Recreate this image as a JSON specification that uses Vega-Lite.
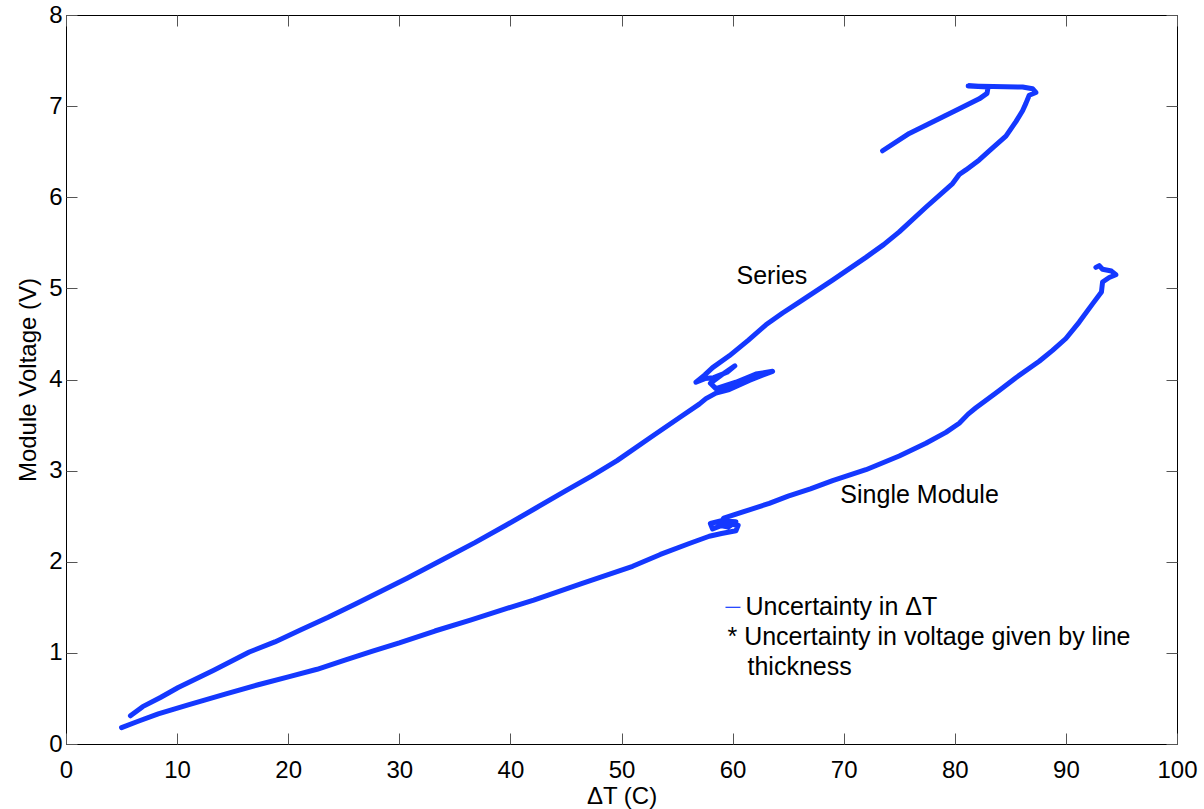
{
  "$schema": "https://vega.github.io/schema/vega-lite/v6.json",
  "width": 1111,
  "height": 729,
  "autosize": "none",
  "padding": {"left": 66, "top": 15, "right": 27, "bottom": 65},
  "background": "white",
  "config": {
    "view": {"stroke": "black", "strokeWidth": 1},
    "font": "Liberation Sans",
    "axis": {"grid": false, "domain": false, "labelColor": "black", "titleColor": "black", "tickColor": "#555", "tickWidth": 1, "labelFlush": false, "labelOverlap": false, "titleFontWeight": "normal", "labelFont": "Liberation Sans", "titleFont": "Liberation Sans"}
  },
  "datasets": {
    "curves": [
      {"curve": "Series", "i": 0, "dT": 5.8, "V": 0.31},
      {"curve": "Series", "i": 1, "dT": 6.9, "V": 0.41},
      {"curve": "Series", "i": 2, "dT": 8.5, "V": 0.51},
      {"curve": "Series", "i": 3, "dT": 10.1, "V": 0.62},
      {"curve": "Series", "i": 4, "dT": 13.3, "V": 0.81},
      {"curve": "Series", "i": 5, "dT": 16.5, "V": 1.01},
      {"curve": "Series", "i": 6, "dT": 18.8, "V": 1.12},
      {"curve": "Series", "i": 7, "dT": 21.1, "V": 1.25},
      {"curve": "Series", "i": 8, "dT": 23.6, "V": 1.39},
      {"curve": "Series", "i": 9, "dT": 26.1, "V": 1.54},
      {"curve": "Series", "i": 10, "dT": 28.4, "V": 1.68},
      {"curve": "Series", "i": 11, "dT": 30.7, "V": 1.82},
      {"curve": "Series", "i": 12, "dT": 34.0, "V": 2.03},
      {"curve": "Series", "i": 13, "dT": 36.8, "V": 2.21},
      {"curve": "Series", "i": 14, "dT": 39.6, "V": 2.40},
      {"curve": "Series", "i": 15, "dT": 42.3, "V": 2.59},
      {"curve": "Series", "i": 16, "dT": 45.0, "V": 2.78},
      {"curve": "Series", "i": 17, "dT": 47.3, "V": 2.94},
      {"curve": "Series", "i": 18, "dT": 49.6, "V": 3.11},
      {"curve": "Series", "i": 19, "dT": 52.8, "V": 3.38},
      {"curve": "Series", "i": 20, "dT": 55.2, "V": 3.58},
      {"curve": "Series", "i": 21, "dT": 57.0, "V": 3.73},
      {"curve": "Series", "i": 22, "dT": 57.6, "V": 3.79},
      {"curve": "Series", "i": 23, "dT": 58.5, "V": 3.85},
      {"curve": "Series", "i": 24, "dT": 59.7, "V": 3.89},
      {"curve": "Series", "i": 25, "dT": 61.5, "V": 3.99},
      {"curve": "Series", "i": 26, "dT": 63.6, "V": 4.09},
      {"curve": "Series", "i": 27, "dT": 62.1, "V": 4.06},
      {"curve": "Series", "i": 28, "dT": 60.3, "V": 3.97},
      {"curve": "Series", "i": 29, "dT": 58.5, "V": 3.90},
      {"curve": "Series", "i": 30, "dT": 58.0, "V": 3.96},
      {"curve": "Series", "i": 31, "dT": 59.0, "V": 4.05},
      {"curve": "Series", "i": 32, "dT": 60.2, "V": 4.15},
      {"curve": "Series", "i": 33, "dT": 59.5, "V": 4.08},
      {"curve": "Series", "i": 34, "dT": 58.3, "V": 4.02},
      {"curve": "Series", "i": 35, "dT": 57.5, "V": 4.01},
      {"curve": "Series", "i": 36, "dT": 56.7, "V": 3.97},
      {"curve": "Series", "i": 37, "dT": 57.5, "V": 4.05},
      {"curve": "Series", "i": 38, "dT": 58.2, "V": 4.13},
      {"curve": "Series", "i": 39, "dT": 59.7, "V": 4.26},
      {"curve": "Series", "i": 40, "dT": 61.4, "V": 4.43},
      {"curve": "Series", "i": 41, "dT": 63.0, "V": 4.60},
      {"curve": "Series", "i": 42, "dT": 64.5, "V": 4.73},
      {"curve": "Series", "i": 43, "dT": 66.0, "V": 4.85},
      {"curve": "Series", "i": 44, "dT": 69.0, "V": 5.09},
      {"curve": "Series", "i": 45, "dT": 72.0, "V": 5.34},
      {"curve": "Series", "i": 46, "dT": 73.6, "V": 5.48},
      {"curve": "Series", "i": 47, "dT": 75.0, "V": 5.62},
      {"curve": "Series", "i": 48, "dT": 77.4, "V": 5.89},
      {"curve": "Series", "i": 49, "dT": 79.8, "V": 6.15},
      {"curve": "Series", "i": 50, "dT": 80.4, "V": 6.25},
      {"curve": "Series", "i": 51, "dT": 81.0, "V": 6.30},
      {"curve": "Series", "i": 52, "dT": 82.2, "V": 6.41},
      {"curve": "Series", "i": 53, "dT": 83.2, "V": 6.52},
      {"curve": "Series", "i": 54, "dT": 84.6, "V": 6.67},
      {"curve": "Series", "i": 55, "dT": 85.5, "V": 6.83},
      {"curve": "Series", "i": 56, "dT": 86.1, "V": 6.95},
      {"curve": "Series", "i": 57, "dT": 86.4, "V": 7.03},
      {"curve": "Series", "i": 58, "dT": 86.7, "V": 7.12},
      {"curve": "Series", "i": 59, "dT": 87.3, "V": 7.15},
      {"curve": "Series", "i": 60, "dT": 87.0, "V": 7.19},
      {"curve": "Series", "i": 61, "dT": 86.1, "V": 7.21},
      {"curve": "Series", "i": 62, "dT": 81.2, "V": 7.22},
      {"curve": "Series", "i": 63, "dT": 83.0, "V": 7.21},
      {"curve": "Series", "i": 64, "dT": 82.9, "V": 7.14},
      {"curve": "Series", "i": 65, "dT": 82.2, "V": 7.08},
      {"curve": "Series", "i": 66, "dT": 80.4, "V": 6.97},
      {"curve": "Series", "i": 67, "dT": 78.9, "V": 6.88},
      {"curve": "Series", "i": 68, "dT": 77.4, "V": 6.79},
      {"curve": "Series", "i": 69, "dT": 75.9, "V": 6.70},
      {"curve": "Series", "i": 70, "dT": 73.5, "V": 6.51},
      {"curve": "Single", "i": 0, "dT": 5.0, "V": 0.18},
      {"curve": "Single", "i": 1, "dT": 6.5, "V": 0.25},
      {"curve": "Single", "i": 2, "dT": 8.3, "V": 0.33},
      {"curve": "Single", "i": 3, "dT": 11.0, "V": 0.43},
      {"curve": "Single", "i": 4, "dT": 14.4, "V": 0.55},
      {"curve": "Single", "i": 5, "dT": 17.3, "V": 0.65},
      {"curve": "Single", "i": 6, "dT": 20.1, "V": 0.74},
      {"curve": "Single", "i": 7, "dT": 22.6, "V": 0.82},
      {"curve": "Single", "i": 8, "dT": 25.1, "V": 0.92},
      {"curve": "Single", "i": 9, "dT": 27.6, "V": 1.02},
      {"curve": "Single", "i": 10, "dT": 30.0, "V": 1.11},
      {"curve": "Single", "i": 11, "dT": 33.2, "V": 1.24},
      {"curve": "Single", "i": 12, "dT": 36.4, "V": 1.36},
      {"curve": "Single", "i": 13, "dT": 39.2, "V": 1.47},
      {"curve": "Single", "i": 14, "dT": 42.1, "V": 1.58},
      {"curve": "Single", "i": 15, "dT": 46.4, "V": 1.76},
      {"curve": "Single", "i": 16, "dT": 51.0, "V": 1.95},
      {"curve": "Single", "i": 17, "dT": 53.5, "V": 2.08},
      {"curve": "Single", "i": 18, "dT": 56.1, "V": 2.20},
      {"curve": "Single", "i": 19, "dT": 57.9, "V": 2.28},
      {"curve": "Single", "i": 20, "dT": 59.0, "V": 2.31},
      {"curve": "Single", "i": 21, "dT": 60.3, "V": 2.34},
      {"curve": "Single", "i": 22, "dT": 60.5, "V": 2.40},
      {"curve": "Single", "i": 23, "dT": 59.5, "V": 2.42},
      {"curve": "Single", "i": 24, "dT": 58.2, "V": 2.36},
      {"curve": "Single", "i": 25, "dT": 58.0, "V": 2.42},
      {"curve": "Single", "i": 26, "dT": 59.0, "V": 2.45},
      {"curve": "Single", "i": 27, "dT": 60.3, "V": 2.44},
      {"curve": "Single", "i": 28, "dT": 59.6, "V": 2.38},
      {"curve": "Single", "i": 29, "dT": 58.8, "V": 2.40},
      {"curve": "Single", "i": 30, "dT": 59.2, "V": 2.48},
      {"curve": "Single", "i": 31, "dT": 61.5, "V": 2.57},
      {"curve": "Single", "i": 32, "dT": 63.3, "V": 2.64},
      {"curve": "Single", "i": 33, "dT": 65.0, "V": 2.72},
      {"curve": "Single", "i": 34, "dT": 67.0, "V": 2.80},
      {"curve": "Single", "i": 35, "dT": 69.0, "V": 2.89},
      {"curve": "Single", "i": 36, "dT": 72.0, "V": 3.01},
      {"curve": "Single", "i": 37, "dT": 75.0, "V": 3.16},
      {"curve": "Single", "i": 38, "dT": 77.4, "V": 3.30},
      {"curve": "Single", "i": 39, "dT": 79.2, "V": 3.42},
      {"curve": "Single", "i": 40, "dT": 80.4, "V": 3.52},
      {"curve": "Single", "i": 41, "dT": 81.2, "V": 3.62},
      {"curve": "Single", "i": 42, "dT": 81.9, "V": 3.69},
      {"curve": "Single", "i": 43, "dT": 83.0, "V": 3.79},
      {"curve": "Single", "i": 44, "dT": 84.0, "V": 3.88},
      {"curve": "Single", "i": 45, "dT": 85.5, "V": 4.02},
      {"curve": "Single", "i": 46, "dT": 87.6, "V": 4.20},
      {"curve": "Single", "i": 47, "dT": 88.8, "V": 4.32},
      {"curve": "Single", "i": 48, "dT": 90.0, "V": 4.45},
      {"curve": "Single", "i": 49, "dT": 91.2, "V": 4.63},
      {"curve": "Single", "i": 50, "dT": 92.4, "V": 4.83},
      {"curve": "Single", "i": 51, "dT": 93.2, "V": 4.96},
      {"curve": "Single", "i": 52, "dT": 93.3, "V": 5.07},
      {"curve": "Single", "i": 53, "dT": 93.9, "V": 5.12},
      {"curve": "Single", "i": 54, "dT": 94.5, "V": 5.15},
      {"curve": "Single", "i": 55, "dT": 94.1, "V": 5.19},
      {"curve": "Single", "i": 56, "dT": 93.3, "V": 5.21},
      {"curve": "Single", "i": 57, "dT": 93.0, "V": 5.25},
      {"curve": "Single", "i": 58, "dT": 92.7, "V": 5.23}
    ],
    "labels": [
      {"label": "Series", "tx": 60.35, "ty": 5.14},
      {"label": "Single Module", "tx": 69.7, "ty": 2.73},
      {"label": "Uncertainty in ΔT", "tx": 61.16, "ty": 1.50},
      {"label": "* Uncertainty in voltage given by line", "tx": 59.54, "ty": 1.17},
      {"label": "thickness", "tx": 61.34, "ty": 0.84}
    ],
    "legendline": [
      {"x1": 59.36, "x2": 60.71, "y": 1.50}
    ]
  },
  "layer": [
    {
      "data": {"name": "curves"},
      "mark": {"type": "line", "strokeWidth": 5, "color": "#1438ff", "strokeCap": "round", "strokeJoin": "round"},
      "encoding": {
        "x": {"field": "dT", "type": "quantitative", "scale": {"domain": [0, 100], "nice": false, "zero": false},
          "axis": {"orient": "bottom", "values": [0, 10, 20, 30, 40, 50, 60, 70, 80, 90, 100], "tickSize": -11, "labelPadding": 25, "labelFontSize": 24, "title": "ΔT (C)", "titleFontSize": 24, "titlePadding": 2}},
        "y": {"field": "V", "type": "quantitative", "scale": {"domain": [0, 8], "nice": false, "zero": false},
          "axis": {"orient": "left", "values": [0, 1, 2, 3, 4, 5, 6, 7, 8], "tickSize": -11, "labelPadding": 15, "labelFontSize": 24, "title": "Module Voltage (V)", "titleFontSize": 24, "titlePadding": 8}},
        "detail": {"field": "curve", "type": "nominal"},
        "order": {"field": "i", "type": "quantitative"}
      }
    },
    {
      "data": {"name": "curves"},
      "mark": {"type": "point", "opacity": 0},
      "encoding": {
        "x": {"field": "dT", "type": "quantitative", "axis": {"orient": "top", "values": [0, 10, 20, 30, 40, 50, 60, 70, 80, 90, 100], "tickSize": -11, "labels": false, "title": null}},
        "y": {"field": "V", "type": "quantitative", "axis": {"orient": "right", "values": [0, 1, 2, 3, 4, 5, 6, 7, 8], "tickSize": -11, "labels": false, "title": null}}
      }
    },
    {
      "data": {"name": "labels"},
      "mark": {"type": "text", "align": "left", "baseline": "middle", "fontSize": 25, "font": "Liberation Sans", "color": "black"},
      "encoding": {
        "x": {"field": "tx", "type": "quantitative", "axis": null},
        "y": {"field": "ty", "type": "quantitative", "axis": null},
        "text": {"field": "label", "type": "nominal"}
      }
    },
    {
      "data": {"name": "legendline"},
      "mark": {"type": "rule", "color": "#1438ff", "strokeWidth": 1.2},
      "encoding": {
        "x": {"field": "x1", "type": "quantitative", "axis": null},
        "x2": {"field": "x2"},
        "y": {"field": "y", "type": "quantitative", "axis": null}
      }
    }
  ],
  "resolve": {"axis": {"x": "independent", "y": "independent"}}
}
